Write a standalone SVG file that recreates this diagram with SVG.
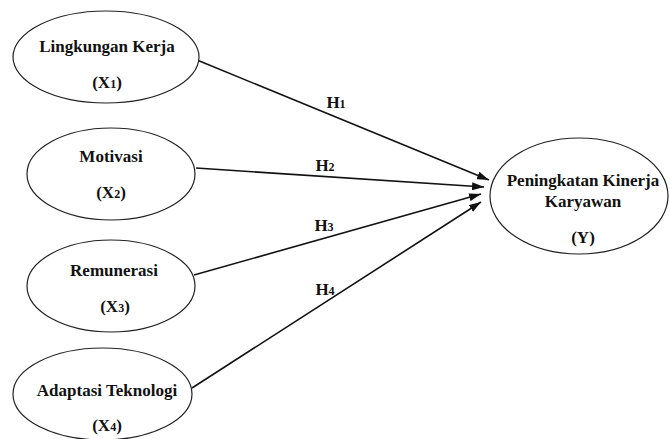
<svg xmlns="http://www.w3.org/2000/svg" width="670" height="439" viewBox="0 0 670 439">
<style>
.node ellipse{fill:#fff;stroke:#222;stroke-width:1.2}
text{font-family:"Liberation Serif","Times New Roman",serif;font-weight:bold;font-size:17px;fill:#111;text-anchor:middle}
.sub{font-size:12px}
.edge line{stroke:#111;stroke-width:1.6}
</style>
<defs>
<marker id="arr" viewBox="0 0 12 8" refX="12" refY="4" markerWidth="12" markerHeight="8" markerUnits="userSpaceOnUse" orient="auto">
<path d="M0,0 L12,4 L0,8 Z" fill="#111"/>
</marker>
</defs>
<rect width="670" height="439" fill="#fff"/>
<g id="connectors" class="edge">
<line x1="197" y1="60" x2="489" y2="180" marker-end="url(#arr)"/>
<line x1="196" y1="168" x2="484" y2="187" marker-end="url(#arr)"/>
<line x1="194" y1="275" x2="481" y2="194" marker-end="url(#arr)"/>
<line x1="192" y1="388" x2="481" y2="202" marker-end="url(#arr)"/>
<text x="336" y="108">H<tspan class="sub">1</tspan></text>
<text x="325" y="171">H<tspan class="sub">2</tspan></text>
<text x="324" y="231">H<tspan class="sub">3</tspan></text>
<text x="325" y="295">H<tspan class="sub">4</tspan></text>
</g>
<g id="x1" class="node">
<ellipse cx="106" cy="57" rx="93" ry="46"/>
<text x="107" y="52">Lingkungan Kerja</text>
<text x="107" y="88">(X<tspan class="sub">1</tspan>)</text>
</g>
<g id="x2" class="node">
<ellipse cx="111" cy="174" rx="84" ry="46"/>
<text x="111" y="162">Motivasi</text>
<text x="111" y="198">(X<tspan class="sub">2</tspan>)</text>
</g>
<g id="x3" class="node">
<ellipse cx="111" cy="286" rx="84" ry="46"/>
<text x="114" y="276">Remunerasi</text>
<text x="115" y="312">(X<tspan class="sub">3</tspan>)</text>
</g>
<g id="x4" class="node">
<ellipse cx="102.5" cy="394" rx="89.5" ry="46"/>
<text x="107" y="396">Adaptasi Teknologi</text>
<text x="107" y="431">(X<tspan class="sub">4</tspan>)</text>
</g>
<g id="y" class="node">
<ellipse cx="579" cy="196" rx="89" ry="58"/>
<text x="583" y="186">Peningkatan Kinerja</text>
<text x="583" y="207">Karyawan</text>
<text x="583" y="243">(Y)</text>
</g>
</svg>
